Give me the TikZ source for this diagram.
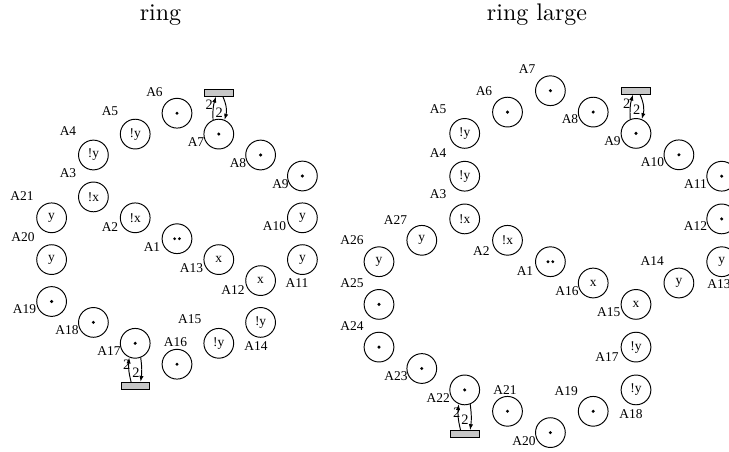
\documentclass[tikz,border=0pt]{standalone}
\usepackage{fontspec}
\newfontfamily\tms{Liberation Serif}
\usetikzlibrary{arrows.meta}
\newcommand\onetok[1]{\fill (#1.center) circle[radius=0.7pt];}
\newcommand\twotok[1]{\fill ([xshift=-1pt]#1.center) circle[radius=0.65pt]; \fill ([xshift=1pt]#1.center) circle[radius=0.65pt];}
\begin{document}
\begin{tikzpicture}[x=0.41667pt,y=-0.41667pt,
  place/.style={circle,draw,minimum size=12.4pt,inner sep=0pt,font=\tms\fontsize{5.6}{6}\selectfont},
  trans/.style={draw,fill=black!22,minimum width=11.9pt,minimum height=2.8pt,inner sep=0pt},
  lbl/.style={font=\tms\fontsize{5.6}{6}\selectfont,inner sep=0pt},
  wt/.style={font=\tms\fontsize{6}{6}\selectfont,inner sep=0pt},
  arc/.style={-{Latex[length=2.5pt,width=1.8pt]}},
  ttl/.style={anchor=base,inner sep=0pt}]
\useasboundingbox (0,0) rectangle (729,451);
% titles
\node[ttl] (title1) at (160.5,20) {ring};
\node[ttl] (title2) at (537,20) {ring large};

% ===== left: ring =====
\node[place] (LA1) at (177.0,238.7) {};
\node[place] (LA2) at (135.2,217.8) {!x};
\node[place] (LA3) at (93.4,196.9) {!x};
\node[place] (LA4) at (93.4,155.0) {!y};
\node[place] (LA5) at (135.2,134.1) {!y};
\node[place] (LA6) at (177.0,113.2) {};
\node[place] (LA7) at (218.8,134.1) {};
\node[place] (LA8) at (260.6,155.0) {};
\node[place] (LA9) at (302.4,176.0) {};
\node[place] (LA10) at (302.4,217.8) {y};
\node[place] (LA11) at (302.4,259.6) {y};
\node[place] (LA12) at (260.6,280.6) {x};
\node[place] (LA13) at (218.8,259.6) {x};
\node[place] (LA14) at (260.6,322.4) {!y};
\node[place] (LA15) at (218.8,343.3) {!y};
\node[place] (LA16) at (177.0,364.2) {};
\node[place] (LA17) at (135.2,343.3) {};
\node[place] (LA18) at (93.4,322.4) {};
\node[place] (LA19) at (51.6,301.5) {};
\node[place] (LA20) at (51.6,259.6) {y};
\node[place] (LA21) at (51.6,217.8) {y};
\twotok{LA1}
\onetok{LA6}\onetok{LA7}\onetok{LA8}\onetok{LA9}
\onetok{LA16}\onetok{LA17}\onetok{LA18}\onetok{LA19}

\node[lbl] (lLA1) at (152,247.5) {A1};
\node[lbl] (lLA2) at (110,227.5) {A2};
\node[lbl] (lLA3) at (68,173) {A3};
\node[lbl] (lLA4) at (68,131.5) {A4};
\node[lbl] (lLA5) at (110,110.8) {A5};
\node[lbl] (lLA6) at (154.5,92.3) {A6};
\node[lbl] (lLA7) at (196,142.3) {A7};
\node[lbl] (lLA8) at (238,163) {A8};
\node[lbl] (lLA9) at (280.5,184.5) {A9};
\node[lbl] (lLA10) at (274.5,226.3) {A10};
\node[lbl] (lLA11) at (297,283.2) {A11};
\node[lbl] (lLA12) at (233,290) {A12};
\node[lbl] (lLA13) at (191.5,268.5) {A13};
\node[lbl] (lLA14) at (256,346.3) {A14};
\node[lbl] (lLA15) at (189.7,319) {A15};
\node[lbl] (lLA16) at (175.5,342.3) {A16};
\node[lbl] (lLA17) at (109,351) {A17};
\node[lbl] (lLA18) at (67,330) {A18};
\node[lbl] (lLA19) at (24.5,309.5) {A19};
\node[lbl] (lLA20) at (23,237) {A20};
\node[lbl] (lLA21) at (22,196.5) {A21};

\node[trans] (LT1) at (219,92.7) {};
\node[trans] (LT2) at (135.5,385.7) {};
\draw[arc] (LA7.112) to[bend left=10] (LT1.-128);
\draw[arc] (LT1.-45) to[bend left=20] (LA7.68);
\node[wt] (wL1a) at (209.3,105) {2};
\node[wt] (wL1b) at (219.3,112.3) {2};
\draw[arc] (LT2.139) to[bend left=10] (LA17.-113);
\draw[arc] (LA17.-69) to[bend left=8] (LT2.37);
\node[wt] (wL2a) at (126.7,365) {2};
\node[wt] (wL2b) at (136,372.3) {2};

% ===== right: ring large =====
\node[place] (RA1) at (550.4,261.7) {};
\node[place] (RA2) at (507.5,240.3) {!x};
\node[place] (RA3) at (464.7,218.9) {!x};
\node[place] (RA4) at (464.7,176.2) {!y};
\node[place] (RA5) at (464.7,133.4) {!y};
\node[place] (RA6) at (507.5,112.1) {};
\node[place] (RA7) at (550.4,90.7) {};
\node[place] (RA8) at (593.2,112.1) {};
\node[place] (RA9) at (636.0,133.4) {};
\node[place] (RA10) at (678.9,154.8) {};
\node[place] (RA11) at (721.7,176.2) {};
\node[place] (RA12) at (721.7,218.9) {};
\node[place] (RA13) at (721.7,261.7) {y};
\node[place] (RA14) at (678.9,283.0) {y};
\node[place] (RA15) at (636.0,304.4) {x};
\node[place] (RA16) at (593.2,283.0) {x};
\node[place] (RA17) at (636.0,347.1) {!y};
\node[place] (RA18) at (636.0,389.9) {!y};
\node[place] (RA19) at (593.2,411.3) {};
\node[place] (RA20) at (550.4,432.6) {};
\node[place] (RA21) at (507.5,411.3) {};
\node[place] (RA22) at (464.7,389.9) {};
\node[place] (RA23) at (421.8,368.5) {};
\node[place] (RA24) at (379,347.1) {};
\node[place] (RA25) at (379,304.4) {};
\node[place] (RA26) at (379,261.7) {y};
\node[place] (RA27) at (421.8,240.3) {y};
\twotok{RA1}
\onetok{RA6}\onetok{RA7}\onetok{RA8}\onetok{RA9}\onetok{RA10}\onetok{RA11}\onetok{RA12}
\onetok{RA19}\onetok{RA20}\onetok{RA21}\onetok{RA22}\onetok{RA23}\onetok{RA24}\onetok{RA25}

\node[lbl] (lRA1) at (525,271) {A1};
\node[lbl] (lRA2) at (481.3,251) {A2};
\node[lbl] (lRA3) at (438.2,194.5) {A3};
\node[lbl] (lRA4) at (438.2,152.7) {A4};
\node[lbl] (lRA5) at (438.2,109) {A5};
\node[lbl] (lRA6) at (484,90.7) {A6};
\node[lbl] (lRA7) at (527.2,68.7) {A7};
\node[lbl] (lRA8) at (570,119.5) {A8};
\node[lbl] (lRA9) at (612.5,140.8) {A9};
\node[lbl] (lRA10) at (652.5,162) {A10};
\node[lbl] (lRA11) at (695.5,184) {A11};
\node[lbl] (lRA12) at (695.5,225.8) {A12};
\node[lbl] (lRA13) at (719,284) {A13};
\node[lbl] (lRA14) at (652.2,261.3) {A14};
\node[lbl] (lRA15) at (608.7,312.3) {A15};
\node[lbl] (lRA16) at (567,291.3) {A16};
\node[lbl] (lRA17) at (607,357.3) {A17};
\node[lbl] (lRA18) at (631,414.2) {A18};
\node[lbl] (lRA19) at (566.3,390.7) {A19};
\node[lbl] (lRA20) at (524,441) {A20};
\node[lbl] (lRA21) at (505,390.5) {A21};
\node[lbl] (lRA22) at (438.2,398.2) {A22};
\node[lbl] (lRA23) at (396,376.5) {A23};
\node[lbl] (lRA24) at (352,326) {A24};
\node[lbl] (lRA25) at (352,282.8) {A25};
\node[lbl] (lRA26) at (352,240.3) {A26};
\node[lbl] (lRA27) at (395.5,219.7) {A27};

\node[trans] (RT1) at (636.2,90.7) {};
\node[trans] (RT2) at (465,434) {};
\draw[arc] (RA9.112) to[bend left=10] (RT1.-130);
\draw[arc] (RT1.-45) to[bend left=20] (RA9.68);
\node[wt] (wR1a) at (626.7,103.3) {2};
\node[wt] (wR1b) at (636.7,110) {2};
\draw[arc] (RT2.139) to[bend left=10] (RA22.-113);
\draw[arc] (RA22.-69) to[bend left=8] (RT2.37);
\node[wt] (wR2a) at (456.7,412.7) {2};
\node[wt] (wR2b) at (465,420) {2};
\end{tikzpicture}
\end{document}
